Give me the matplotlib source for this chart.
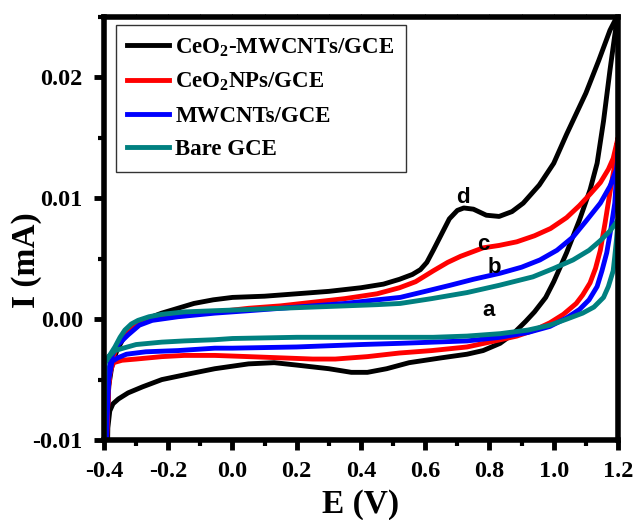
import matplotlib
matplotlib.use("Agg")
import matplotlib.pyplot as plt
from matplotlib.ticker import MultipleLocator, FormatStrFormatter

plt.rcParams['font.family'] = 'Liberation Serif'
plt.rcParams['font.weight'] = 'bold'
plt.rcParams['axes.unicode_minus'] = False
plt.rcParams['mathtext.fontset'] = 'custom'
plt.rcParams['mathtext.rm'] = 'Liberation Serif:bold'
plt.rcParams['mathtext.bf'] = 'Liberation Serif:bold'
plt.rcParams['mathtext.default'] = 'rm'

# CeO2-MWCNTs/GCE (anodic sweep then cathodic sweep)
e_cm_fwd = [-0.395, -0.39, -0.385, -0.375, -0.36, -0.34, -0.31, -0.28, -0.25, -0.22, -0.17,
            -0.12, -0.06, 0.0, 0.10, 0.20, 0.30, 0.40, 0.47, 0.52, 0.56, 0.585, 0.605, 0.625,
            0.65, 0.675, 0.70, 0.72, 0.75, 0.79, 0.83, 0.87, 0.905, 0.955, 1.00, 1.04, 1.07,
            1.10, 1.14, 1.175, 1.20]
i_cm_fwd = [-0.012, -0.008, -0.0055, -0.0038, -0.0026, -0.0016, -0.0008, -0.0002, 0.0002,
            0.0005, 0.0009, 0.0013, 0.0016, 0.0018, 0.0019, 0.0021, 0.0023, 0.0026, 0.0029,
            0.0033, 0.0037, 0.0041, 0.0047, 0.0057, 0.0070, 0.0083, 0.0090, 0.0092, 0.0091,
            0.0086, 0.0085, 0.0089, 0.0096, 0.0111, 0.0129, 0.0153, 0.0170, 0.0187, 0.0214,
            0.0239, 0.0252]
e_cm_rev = [1.20, 1.19, 1.175, 1.155, 1.135, 1.113, 1.08, 1.04, 1.00, 0.975, 0.94, 0.912,
            0.874, 0.833, 0.78, 0.73, 0.65, 0.55, 0.48, 0.42, 0.37, 0.30, 0.20, 0.13, 0.05,
            -0.055, -0.13, -0.22, -0.28, -0.325, -0.355, -0.372, -0.382, -0.388, -0.39]
i_cm_rev = [0.0252, 0.0235, 0.0206, 0.0164, 0.0129, 0.0107, 0.0082, 0.0055, 0.0031, 0.0018,
            0.0006, -0.0002, -0.0012, -0.0020, -0.0026, -0.0029, -0.0032, -0.0036, -0.0041,
            -0.0044, -0.0044, -0.0041, -0.0038, -0.0036, -0.0037, -0.0041, -0.0045, -0.0050,
            -0.0056, -0.0061, -0.0066, -0.0070, -0.0076, -0.009, -0.012]

# CeO2 NPs/GCE
e_np_fwd = [-0.395, -0.39, -0.385, -0.375, -0.36, -0.34, -0.31, -0.27, -0.22, -0.15, -0.05,
            0.05, 0.15, 0.25, 0.35, 0.45, 0.52, 0.57, 0.625, 0.67, 0.71, 0.75, 0.78, 0.83,
            0.885, 0.94, 0.99, 1.04, 1.08, 1.115, 1.145, 1.17, 1.185, 1.20]
i_np_fwd = [-0.012, -0.008, -0.0052, -0.0035, -0.0022, -0.0013, -0.0005, -0.0001, 0.0002,
            0.0004, 0.0006, 0.0009, 0.0011, 0.0014, 0.0017, 0.0021, 0.0026, 0.0031, 0.0040,
            0.0047, 0.0052, 0.0056, 0.0059, 0.0061, 0.0064, 0.0069, 0.0075, 0.0084, 0.0094,
            0.0104, 0.0113, 0.0124, 0.0133, 0.0150]
e_np_rev = [1.20, 1.19, 1.175, 1.16, 1.145, 1.13, 1.113, 1.09, 1.07, 1.03, 0.988, 0.94,
            0.885, 0.80, 0.73, 0.62, 0.52, 0.42, 0.32, 0.25, 0.15, 0.05, -0.055, -0.15, -0.22,
            -0.30, -0.344, -0.37, -0.383, -0.39, -0.393]
i_np_rev = [0.0150, 0.0128, 0.0105, 0.0080, 0.0057, 0.0042, 0.0030, 0.0020, 0.0013, 0.0004,
            -0.0003, -0.0009, -0.0014, -0.0019, -0.0023, -0.0026, -0.0028, -0.0031, -0.0033,
            -0.0033, -0.0032, -0.0031, -0.0030, -0.0030, -0.0031, -0.0033, -0.0034, -0.0036,
            -0.0045, -0.008, -0.012]

# MWCNTs/GCE
e_cnt_fwd = [-0.396, -0.392, -0.387, -0.378, -0.36, -0.325, -0.29, -0.25, -0.17, -0.055, 0.05,
             0.15, 0.25, 0.35, 0.45, 0.522, 0.60, 0.677, 0.75, 0.833, 0.90, 0.957, 1.01, 1.06,
             1.10, 1.145, 1.175, 1.197, 1.20]
i_cnt_fwd = [-0.012, -0.007, -0.0045, -0.0032, -0.0022, -0.0013, -0.0005, -0.0001, 0.0002,
             0.0005, 0.0007, 0.0009, 0.0011, 0.0013, 0.0016, 0.0018, 0.0023, 0.0028, 0.0033,
             0.0038, 0.0043, 0.0049, 0.0057, 0.0068, 0.0081, 0.0096, 0.0110, 0.0125, 0.0138]
e_cnt_rev = [1.20, 1.19, 1.178, 1.165, 1.15, 1.135, 1.11, 1.08, 1.04, 0.988, 0.92, 0.833,
             0.73, 0.625, 0.522, 0.40, 0.20, 0.0, -0.055, -0.17, -0.27, -0.33, -0.357, -0.375,
             -0.385, -0.39, -0.394]
i_cnt_rev = [0.0138, 0.0096, 0.0075, 0.0055, 0.0040, 0.0027, 0.0016, 0.0008, 0.0001,
             -0.0006, -0.0011, -0.0015, -0.0018, -0.0019, -0.0020, -0.0021, -0.0023, -0.0024,
             -0.0024, -0.0026, -0.0027, -0.0029, -0.0032, -0.0035, -0.005, -0.008, -0.012]

# Bare GCE
e_gce_fwd = [-0.399, -0.398, -0.397, -0.385, -0.366, -0.35, -0.335, -0.315, -0.294, -0.26,
             -0.22, -0.15, -0.055, 0.05, 0.15, 0.25, 0.35, 0.45, 0.522, 0.62, 0.73, 0.83,
             0.935, 1.00, 1.06, 1.11, 1.145, 1.175, 1.20]
i_gce_fwd = [-0.012, -0.006, -0.0036, -0.0031, -0.0023, -0.0015, -0.0009, -0.0004, -0.0001,
             0.0002, 0.0004, 0.0006, 0.0007, 0.0008, 0.0009, 0.0010, 0.0011, 0.0012, 0.0013,
             0.0017, 0.0022, 0.0028, 0.0035, 0.0042, 0.0049, 0.0057, 0.0065, 0.0073, 0.0082]
e_gce_rev = [1.20, 1.195, 1.19, 1.185, 1.17, 1.155, 1.125, 1.09, 1.04, 0.988, 0.92, 0.833,
             0.73, 0.625, 0.42, 0.20, 0.0, -0.055, -0.15, -0.22, -0.30, -0.34, -0.366, -0.385,
             -0.397]
i_gce_rev = [0.0082, 0.0065, 0.0052, 0.0040, 0.0027, 0.0018, 0.0010, 0.0005, 0.0, -0.0005,
             -0.0009, -0.0012, -0.0014, -0.0015, -0.0015, -0.0015, -0.0016, -0.0017, -0.0018,
             -0.0019, -0.0021, -0.0024, -0.0026, -0.0031, -0.0036]

labels = ['CeO$_2$-MWCNTs/GCE', 'CeO$_2$NPs/GCE', 'MWCNTs/GCE', 'Bare GCE']
colors = ['black', '#ff0000', '#0000ff', '#008080']
curve_tags = ['d', 'c', 'b', 'a']
tag_pos = [(0.718, 0.0101), (0.78, 0.0062), (0.815, 0.0043), (0.796, 0.0007)]

curves = [
    (e_cm_fwd + e_cm_rev, i_cm_fwd + i_cm_rev),
    (e_np_fwd + e_np_rev, i_np_fwd + i_np_rev),
    (e_cnt_fwd + e_cnt_rev, i_cnt_fwd + i_cnt_rev),
    (e_gce_fwd + e_gce_rev, i_gce_fwd + i_gce_rev),
]

fig = plt.figure(figsize=(6.36, 5.2), dpi=100)
ax = fig.add_axes([0.1635, 0.1538, 0.8082, 0.8135])

for (e, i), lab, c in zip(curves, labels, colors):
    ax.plot(e, i, color=c, lw=3.5, label=lab, solid_joinstyle='round')

for tag, (x, y) in zip(curve_tags, tag_pos):
    ax.text(x, y, tag, fontsize=16, fontweight='bold', family='Liberation Sans',
            ha='center', va='center')

ax.set_xlim(-0.4, 1.2)
ax.set_ylim(-0.01, 0.025)
ax.xaxis.set_major_locator(MultipleLocator(0.2))
ax.xaxis.set_minor_locator(MultipleLocator(0.1))
ax.yaxis.set_major_locator(MultipleLocator(0.01))
ax.yaxis.set_minor_locator(MultipleLocator(0.005))
ax.xaxis.set_major_formatter(FormatStrFormatter('%.1f'))
ax.yaxis.set_major_formatter(FormatStrFormatter('%.2f'))

for s in ax.spines.values():
    s.set_linewidth(4.0)
ax.tick_params(which='major', direction='out', length=7.2, width=3.5, labelsize=17.5)
ax.tick_params(which='minor', direction='out', length=4, width=3.0)
ax.tick_params(axis='x', which='major', pad=8)
ax.tick_params(axis='y', which='major', pad=8)
ax.tick_params(which='both', right=False)
# tiny ticks along the top frame
ax.tick_params(axis='x', which='both', top=True, labeltop=False)
for t in ax.xaxis.get_major_ticks() + ax.xaxis.get_minor_ticks():
    t.tick2line.set_markersize(2)
    t.tick2line.set_markeredgewidth(0.6)
    t.tick2line.set_color('#999999')

ax.set_xlabel('E (V)', fontsize=24, fontweight='bold', labelpad=5)
ax.set_ylabel('I (mA)', fontsize=24, fontweight='bold', labelpad=0)
ax.yaxis.set_label_coords(-0.121, 0.425)

leg = ax.legend(loc='upper left', bbox_to_anchor=(0.023, 0.981), borderaxespad=0,
                fontsize=16.5, frameon=True, fancybox=False, edgecolor='black',
                handlelength=1.8, handletextpad=0.3, labelspacing=0.54, borderpad=0.5)
leg.get_frame().set_linewidth(1.0)
for line in leg.get_lines():
    line.set_linewidth(3.5)

fig.savefig('out.png', dpi=100)
